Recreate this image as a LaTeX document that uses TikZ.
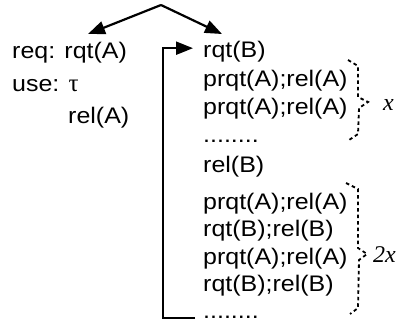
\documentclass[tikz,border=0pt]{standalone}
\usepackage{fontspec}
\setmainfont{Liberation Sans}[FakeStretch=1.11]
\newfontfamily\seriffont{Liberation Serif}
\usetikzlibrary{arrows.meta}
\begin{document}
\begin{tikzpicture}[x=1pt,y=-1pt,
  row/.style={anchor=base west, inner sep=0pt, font=\fontsize{22.5}{26}\selectfont},
  conn/.style={line width=2.2pt, line join=miter, -{Triangle[length=17pt,width=13pt]}},
  dbrace/.style={line width=1.8pt, dash pattern=on 3.5pt off 3pt},
  lbl/.style={anchor=base west, inner sep=0pt, font=\fontsize{24}{28}\selectfont\seriffont\itshape}]
\useasboundingbox (0,0) rectangle (401,329);
% left column
\node[row] (req) at (12,59) {req: rqt(A)};
\node[row] (use) at (12,91) {use: {\seriffont\fontsize{25}{28}\selectfont τ}};
\node[row] (relA) at (68,123) {rel(A)};
% right column
\node[row] (rqtB) at (203,58) {rqt(B)};
\node[row] (p1) at (203,86) {prqt(A);rel(A)};
\node[row] (p2) at (203,114) {prqt(A);rel(A)};
\node[row] (dotsA) at (203,142) {........};
\node[row] (relB) at (203,172) {rel(B)};
\node[row] (p3) at (203,209) {prqt(A);rel(A)};
\node[row] (r1) at (203,236) {rqt(B);rel(B)};
\node[row] (p4) at (203,264) {prqt(A);rel(A)};
\node[row] (r2) at (203,291) {rqt(B);rel(B)};
\node[row] (dotsB) at (203,318) {........};
% top arrows
\coordinate (apex) at (161,5);
\coordinate (ltip) at (88,34);
\coordinate (rtip) at (222,34);
\draw[conn] (apex) -- (ltip);
\draw[conn] (apex) -- (rtip);
% loop
\coordinate (loopx) at (163,0);
\draw[conn] ([xshift=-8pt]dotsB.base west) -- (dotsB.base west -| loopx) |- ([xshift=-10pt,yshift=4pt]rqtB.west);
% braces
\draw[dbrace] (348,60) -- (358,66) -- (358,97) -- (368,102) -- (359,108) -- (358,134) -- (349,140);
\node[lbl] (xl) at (383,110) {x};
\draw[dbrace] (346,183) -- (358,189) -- (358,248) -- (367,254) -- (359,260) -- (358,308) -- (350,314);
\node[lbl] (x2) at (373,262) {2x};
\end{tikzpicture}
\end{document}
